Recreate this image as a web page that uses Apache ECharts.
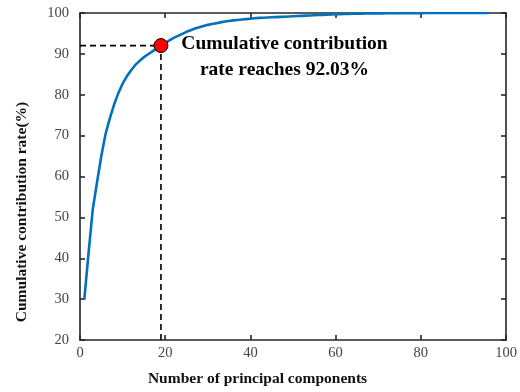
<!DOCTYPE html>
<html><head><meta charset="utf-8">
<script src="https://cdn.jsdelivr.net/npm/echarts@6/dist/echarts.min.js"></script>
<style>html,body{margin:0;padding:0;background:#fff}#c{width:520px;height:392px}</style>
</head><body><div id="c"></div>
<script>
// Data
const components = [];
for (let i = 1; i <= 96; i++) components.push(i);
const cumulativeRate = [
 29.8, 41.2, 52.0, 58.6, 65.0, 70.4, 74.2, 77.6, 80.4, 82.7,
 84.5, 86.0, 87.3, 88.3, 89.2, 89.9, 90.6, 91.3, 92.03, 92.7,
 93.3, 93.9, 94.4, 94.9, 95.4, 95.8, 96.2, 96.5, 96.8, 97.1,
 97.3, 97.5, 97.7, 97.9, 98.05, 98.2, 98.3, 98.4, 98.5, 98.6,
 98.7, 98.8, 98.85, 98.9, 98.95, 99.0, 99.05, 99.1, 99.15, 99.2,
 99.25, 99.3, 99.35, 99.4, 99.45, 99.5, 99.55, 99.6, 99.65, 99.7,
 99.72, 99.75, 99.77, 99.8, 99.82, 99.84, 99.86, 99.88, 99.9, 99.91,
 99.92, 99.93, 99.94, 99.95, 99.96, 99.97, 99.97, 99.98, 99.98, 99.98,
 99.99, 99.99, 99.99, 99.99, 99.99, 100, 100, 100, 100, 100,
 100, 100, 100, 100, 100, 100
];
const markerX = 19;
const markerY = 92.03;
const xTicks = [0, 20, 40, 60, 80, 100];
const yTicks = [20, 30, 40, 50, 60, 70, 80, 90, 100];
const annotationLines = ['Cumulative contribution', 'rate reaches 92.03%'];
const xName = 'Number of principal components';
const yName = 'Cumulative contribution rate(%)';

const lineData = components.map((c, i) => [c, cumulativeRate[i]]);
const serif = '"Liberation Serif","Times New Roman",serif';
const axisCol = '#262626';

const baseAxis = {
  axisLine: {show: true, onZero: false, lineStyle: {color: axisCol, width: 1.6}},
  axisTick: {show: true, inside: true, length: 5, lineStyle: {color: axisCol, width: 1.6}},
  splitLine: {show: false}
};

const chart = echarts.init(document.getElementById('c'), null, {renderer: 'canvas'});
chart.setOption({
  animation: false,
  backgroundColor: '#fff',
  grid: {left: 80, right: 14, top: 13, bottom: 52},
  xAxis: [
    Object.assign({}, baseAxis, {type: 'value', min: xTicks[0], max: xTicks[xTicks.length-1], interval: 20, position: 'bottom',
      axisLabel: {color: '#444', fontFamily: serif, fontSize: 14.5, margin: 6}}),
    Object.assign({}, baseAxis, {type: 'value', min: xTicks[0], max: xTicks[xTicks.length-1], interval: 20, position: 'top',
      axisLabel: {show: false}})
  ],
  yAxis: [
    Object.assign({}, baseAxis, {type: 'value', min: yTicks[0], max: yTicks[yTicks.length-1], interval: 10, position: 'left',
      axisLabel: {color: '#444', fontFamily: serif, fontSize: 14.5, margin: 11}}),
    Object.assign({}, baseAxis, {type: 'value', min: yTicks[0], max: yTicks[yTicks.length-1], interval: 10, position: 'right',
      axisLabel: {show: false}})
  ],
  series: [
    {type: 'line', data: [[xTicks[0], markerY], [markerX, markerY]], symbol: 'none', silent: true,
      lineStyle: {color: '#000', width: 1.6, type: [6, 4]}},
    {type: 'line', data: [[markerX, yTicks[0]], [markerX, markerY]], symbol: 'none', silent: true,
      lineStyle: {color: '#000', width: 1.6, type: [6, 4]}},
    {type: 'line', data: lineData, symbol: 'none', smooth: false,
      lineStyle: {color: '#0072BD', width: 2.6}},
    {type: 'scatter', data: [[markerX, markerY]], symbolSize: 14, z: 5,
      itemStyle: {color: '#ff0000', borderColor: '#000', borderWidth: 1, opacity: 1}}
  ],
  graphic: [
    {type: 'text', x: 284.5, y: 44, style: {text: annotationLines[0], align: 'center', verticalAlign: 'middle',
      font: 'bold 19.5px ' + serif, fill: '#000'}},
    {type: 'text', x: 284.5, y: 70, style: {text: annotationLines[1], align: 'center', verticalAlign: 'middle',
      font: 'bold 19.5px ' + serif, fill: '#000'}},
    {type: 'text', x: 257.5, y: 379, style: {text: xName, align: 'center', verticalAlign: 'middle',
      font: 'bold 15.5px ' + serif, fill: '#111'}},
    {type: 'text', x: 22, y: 212, rotation: Math.PI / 2, style: {text: yName, align: 'center', verticalAlign: 'middle',
      font: 'bold 15.5px ' + serif, fill: '#111'}}
  ]
});
</script></body></html>
